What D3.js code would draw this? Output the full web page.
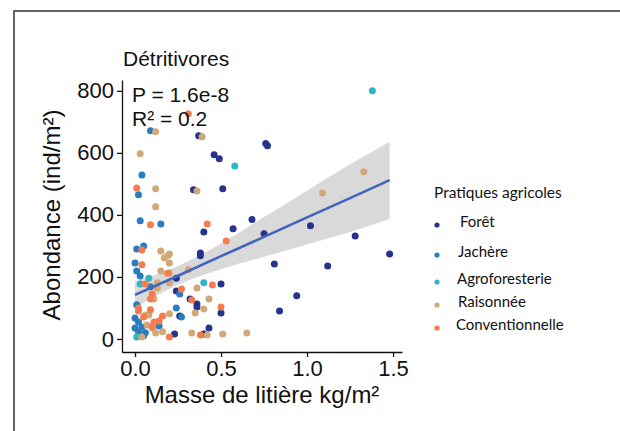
<!DOCTYPE html>
<html>
<head>
<meta charset="utf-8">
<script src="https://cdn.jsdelivr.net/npm/d3@7"></script>
<style>
  html, body { margin: 0; padding: 0; background: #fff; }
  svg { display: block; }
</style>
</head>
<body>
<svg id="chart" width="620" height="431"></svg>
<script>
// Litter mass (kg/m²) vs detritivore abundance (ind/m²), by farming practice
const practices = ["Forêt", "Jachère", "Agroforesterie", "Raisonnée", "Conventionnelle"];
const practiceColors = ["#26338c", "#2a7cbd", "#2db7c2", "#d3a878", "#f47c4e"];

const foret = [
  [1.48, 274], [1.28, 332], [1.12, 235], [1.02, 365], [0.94, 139], [0.84, 90],
  [0.81, 242], [0.77, 623], [0.76, 630], [0.68, 385], [0.75, 339], [0.57, 355],
  [0.51, 484], [0.49, 581], [0.46, 594], [0.37, 655], [0.34, 481], [0.40, 345],
  [0.38, 277], [0.38, 268], [0.24, 196], [0.24, 155], [0.32, 129], [0.50, 177],
  [0.36, 113], [0.36, 103], [0.50, 84], [0.26, 74], [0.43, 35], [0.23, 16], [0.40, 16]
];
const jachere = [
  [0.09, 671], [0.04, 529], [0.02, 465], [0.03, 381], [0.15, 371], [0.01, 290],
  [0.05, 300], [0.00, 245], [0.01, 219], [0.03, 203], [0.09, 168], [0.26, 145],
  [0.01, 110], [0.24, 100], [0.27, 71], [0.00, 68], [0.00, 35], [0.04, 39],
  [0.14, 42], [0.05, 10], [0.02, 23], [0.02, 55], [0.06, 20]
];
const agroforesterie = [
  [1.38, 800], [0.58, 558], [0.40, 181], [0.08, 196], [0.03, 177], [0.01, 6]
];
const raisonnee = [
  [0.12, 668], [0.39, 652], [0.03, 597], [0.12, 484], [0.36, 477], [0.12, 426],
  [1.33, 539], [1.09, 471], [0.15, 284], [0.19, 268], [0.20, 274], [0.17, 261],
  [0.20, 245], [0.15, 219], [0.20, 213], [0.31, 223], [0.13, 181], [0.20, 181],
  [0.13, 164], [0.36, 164], [0.10, 135], [0.11, 129], [0.43, 129], [0.40, 97],
  [0.35, 84], [0.20, 81], [0.08, 77], [0.06, 77], [0.33, 19], [0.42, 13],
  [0.51, 16], [0.65, 19], [0.12, 19], [0.16, 23], [0.10, 35], [0.07, 45], [0.04, 6]
];
const conventionnelle = [
  [0.31, 726], [0.01, 487], [0.09, 368], [0.42, 371], [0.53, 316], [0.04, 287],
  [0.04, 239], [0.19, 212], [0.45, 174], [0.27, 161], [0.06, 177], [0.10, 145],
  [0.09, 129], [0.33, 126], [0.50, 103], [0.09, 94], [0.02, 90], [0.05, 71],
  [0.16, 74], [0.11, 55], [0.14, 58], [0.10, 39], [0.20, 6], [0.38, 13], [0.02, 100]
];

// Linear fit with its 95% confidence band
const fitX  = [0.00, 0.25, 0.50, 0.75, 1.00, 1.25, 1.48];
const fitY  = [142, 204, 267, 329, 392, 454, 512];
const fitLo = [100, 175, 225, 265, 305, 345, 387];
const fitHi = [185, 235, 308, 393, 478, 563, 636];

const xTicks = [0, 0.5, 1, 1.5];
const yTicks = [0, 200, 400, 600, 800];

const series = [foret, jachere, agroforesterie, raisonnee, conventionnelle];

const svg = d3.select("#chart");
const font = "'Liberation Sans', Arial, sans-serif";
const legendFont = "Lato, 'Open Sans', sans-serif";

// Outer frame (left and top edges)
svg.append("path")
  .attr("d", "M14,431 L14,11 L620,11")
  .attr("fill", "none").attr("stroke", "#333").attr("stroke-width", 1.5);

const x = d3.scaleLinear().domain([-0.0756, 1.552]).range([122, 402]);
const y = d3.scaleLinear().domain([-42, 835]).range([352, 80]);

// Confidence band
const bandData = fitX.map((v, i) => ({ x: v, lo: fitLo[i], hi: fitHi[i], y: fitY[i] }));
svg.append("path")
  .datum(bandData)
  .attr("fill", "#d9d9d9")
  .attr("d", d3.area().x(d => x(d.x)).y0(d => y(d.lo)).y1(d => y(d.hi)).curve(d3.curveMonotoneX));

// Points
series.forEach((pts, i) => {
  svg.append("g").selectAll("circle")
    .data(pts).join("circle")
    .attr("cx", d => x(d[0]))
    .attr("cy", d => y(d[1]))
    .attr("r", 3.5)
    .attr("fill", practiceColors[i]);
});

// Regression line
svg.append("path")
  .datum(bandData)
  .attr("fill", "none")
  .attr("stroke", "#4264bd")
  .attr("stroke-width", 2.6)
  .attr("d", d3.line().x(d => x(d.x)).y(d => y(d.y)));

// Axes
const yAxis = svg.append("g").attr("transform", "translate(122,0)")
  .call(d3.axisLeft(y).tickValues(yTicks).tickFormat(d3.format("d")).tickSize(5).tickSizeOuter(0).tickPadding(3));
const xAxis = svg.append("g").attr("transform", "translate(0,352)")
  .call(d3.axisBottom(x).tickValues(xTicks).tickFormat(d3.format(".1f")).tickSize(5).tickSizeOuter(0).tickPadding(3));
[yAxis, xAxis].forEach(a => {
  a.selectAll("path, line").attr("stroke", "#111").attr("stroke-width", 1.3);
  a.selectAll("text").attr("fill", "#111").style("font-family", font).style("font-size", "22px");
});

// Titles
svg.append("text").attr("x", 123).attr("y", 66)
  .style("font-family", font).style("font-size", "21px").attr("fill", "#111")
  .text("Détritivores");

svg.append("text").attr("x", 132).attr("y", 102)
  .style("font-family", font).style("font-size", "21px").attr("fill", "#111")
  .text("P = 1.6e-8");
svg.append("text").attr("x", 132).attr("y", 126)
  .style("font-family", font).style("font-size", "21px").attr("fill", "#111")
  .text("R² = 0.2");

svg.append("text").attr("x", 262).attr("y", 403).attr("text-anchor", "middle")
  .style("font-family", font).style("font-size", "24px").attr("fill", "#111")
  .text("Masse de litière kg/m²");

svg.append("text").attr("transform", "translate(60,215) rotate(-90)").attr("text-anchor", "middle")
  .style("font-family", font).style("font-size", "24px").attr("fill", "#111")
  .text("Abondance (ind/m²)");

// Legend
const legend = svg.append("g");
legend.append("text").attr("x", 434).attr("y", 198)
  .style("font-family", legendFont).style("font-size", "15.5px").attr("fill", "#111")
  .text("Pratiques agricoles");
const legendY = [222, 252, 279, 302, 325];
const legendTx = [460, 458, 457, 458, 456];
practices.forEach((p, i) => {
  legend.append("circle").attr("cx", 437).attr("cy", legendY[i] + 3).attr("r", 2.6).attr("fill", practiceColors[i]);
  legend.append("text").attr("x", legendTx[i]).attr("y", legendY[i] + 5)
    .style("font-family", legendFont).style("font-size", "15px").attr("fill", "#111")
    .text(p);
});
</script>
</body>
</html>
